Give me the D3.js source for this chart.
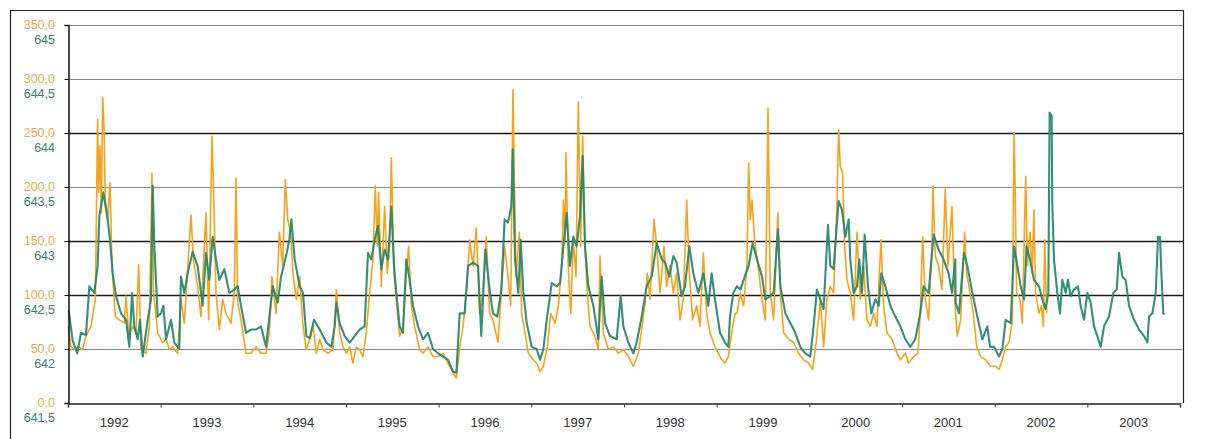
<!DOCTYPE html>
<html>
<head>
<meta charset="utf-8">
<script src="https://cdn.jsdelivr.net/npm/d3@7"></script>
<style>
  html, body { margin: 0; padding: 0; background: #fff; }
  svg { display: block; font-family: "Liberation Sans", Arial, sans-serif; }
</style>
</head>
<body>
<svg id="chart" width="1206" height="439"></svg>
<script>
// ---------------- DATA ----------------
const yearTicks = [1992,1993,1994,1995,1996,1997,1998,1999,2000,2001,2002,2003,2004];
const yearLabels = ["1992","1993","1994","1995","1996","1997","1998","1999","2000","2001","2002","2003"];
const flowTicks = [0,50,100,150,200,250,300,350];
const levelTicks = [641.5,642,642.5,643,643.5,644,644.5,645];

// orange series: [decimal year, value] (left axis 0..350)
const flowData = [
[1992.0,71],[1992.032,52],[1992.068,49.5],[1992.122,52],[1992.158,49.5],[1992.194,62],[1992.248,71],[1992.295,96],[1992.32,263],[1992.331,195],[1992.345,238],[1992.36,176],[1992.374,283],[1992.388,256],[1992.403,188],[1992.428,170],[1992.453,204],[1992.475,127],[1992.511,80],[1992.554,77],[1992.608,74],[1992.626,99],[1992.655,62],[1992.698,71],[1992.734,65],[1992.763,128],[1992.788,49.5],[1992.842,46],[1992.878,71],[1992.906,213],[1992.924,102],[1992.968,65],[1993.022,56],[1993.058,59],[1993.094,49.5],[1993.129,52],[1993.183,46],[1993.219,96],[1993.255,74],[1993.291,124],[1993.327,174],[1993.353,133],[1993.399,108],[1993.435,80],[1993.46,127],[1993.489,176],[1993.518,77],[1993.554,247],[1993.572,195],[1993.597,102],[1993.633,68],[1993.669,96],[1993.705,83],[1993.759,74],[1993.795,102],[1993.813,208],[1993.831,93],[1993.867,77],[1993.921,46],[1993.975,46],[1994.029,52],[1994.083,46],[1994.137,46],[1994.173,65],[1994.201,117],[1994.245,83],[1994.281,158],[1994.317,127],[1994.345,207],[1994.371,170],
[1994.403,158],[1994.428,120],[1994.464,96],[1994.5,117],[1994.536,71],[1994.572,49.5],[1994.608,59],[1994.644,71],[1994.68,46],[1994.716,59],[1994.752,49.5],[1994.806,46],[1994.86,49.5],[1994.896,105],[1994.932,65],[1994.968,52],[1995.004,46],[1995.04,52],[1995.075,37],[1995.111,52],[1995.147,49.5],[1995.183,43],[1995.219,65],[1995.255,102],[1995.291,133],[1995.316,201],[1995.338,145],[1995.352,195],[1995.381,108],[1995.417,182],[1995.446,120],[1995.471,148],[1995.489,227],[1995.518,120],[1995.543,96],[1995.579,62],[1995.615,71],[1995.651,120],[1995.676,145],[1995.705,90],[1995.741,71],[1995.795,49.5],[1995.831,46],[1995.885,52],[1995.939,43],[1995.993,43],[1996.047,46],[1996.101,37],[1996.155,28],[1996.191,23],[1996.227,52],[1996.263,71],[1996.299,102],[1996.335,151],[1996.371,127],[1996.406,162],[1996.442,83],[1996.478,102],[1996.514,154],[1996.55,83],[1996.586,77],[1996.64,56],[1996.676,102],[1996.712,145],[1996.748,117],[1996.777,90],[1996.802,290],
[1996.835,117],[1996.871,158],[1996.896,83],[1996.932,65],[1996.968,46],[1997.022,40],[1997.058,37],[1997.094,29],[1997.13,34],[1997.173,52],[1997.209,83],[1997.256,74],[1997.292,90],[1997.328,127],[1997.346,188],[1997.364,151],[1997.374,232],[1997.399,124],[1997.425,83],[1997.453,151],[1997.482,117],[1997.507,279],[1997.533,145],[1997.554,247],[1997.579,145],[1997.604,102],[1997.633,71],[1997.687,62],[1997.723,49.5],[1997.741,136],[1997.777,65],[1997.831,49.5],[1997.885,52],[1997.939,46],[1997.993,49.5],[1998.047,43],[1998.101,34],[1998.155,46],[1998.191,68],[1998.227,93],[1998.252,120],[1998.281,96],[1998.324,170],[1998.353,145],[1998.389,102],[1998.432,145],[1998.46,108],[1998.496,127],[1998.532,102],[1998.568,120],[1998.604,77],[1998.64,96],[1998.676,188],[1998.705,120],[1998.741,77],[1998.784,90],[1998.82,71],[1998.856,139],[1998.892,83],[1998.928,65],[1998.982,52],[1999.018,46],[1999.054,40],[1999.09,37],[1999.126,43],[1999.162,65],[1999.198,83],
[1999.219,83],[1999.255,102],[1999.291,90],[1999.327,127],[1999.345,222],[1999.363,170],[1999.381,188],[1999.41,151],[1999.446,127],[1999.489,96],[1999.525,77],[1999.554,273],[1999.579,102],[1999.615,77],[1999.661,176],[1999.687,102],[1999.723,65],[1999.777,59],[1999.831,56],[1999.884,46],[1999.938,40],[1999.992,37],[2000.036,31],[2000.082,62],[2000.118,96],[2000.154,52],[2000.19,96],[2000.226,108],[2000.262,102],[2000.298,182],[2000.316,253],[2000.334,219],[2000.359,213],[2000.381,145],[2000.406,114],[2000.442,102],[2000.478,77],[2000.514,158],[2000.55,96],[2000.586,127],[2000.622,77],[2000.658,71],[2000.694,83],[2000.73,71],[2000.773,151],[2000.802,90],[2000.838,65],[2000.892,59],[2000.946,46],[2000.982,40],[2001.036,46],[2001.071,37],[2001.125,43],[2001.172,46],[2001.197,83],[2001.223,154],[2001.251,96],[2001.287,77],[2001.323,145],[2001.334,201],[2001.359,136],[2001.395,127],[2001.431,105],[2001.467,198],[2001.496,127],[2001.539,182],[2001.568,96],
[2001.597,62],[2001.633,77],[2001.676,158],[2001.698,120],[2001.734,102],[2001.77,83],[2001.806,52],[2001.849,43],[2001.903,40],[2001.957,34],[2002.011,34],[2002.047,31],[2002.083,40],[2002.119,52],[2002.155,56],[2002.191,77],[2002.209,250],[2002.219,210],[2002.237,102],[2002.273,96],[2002.299,74],[2002.317,145],[2002.335,210],[2002.353,127],[2002.381,158],[2002.406,120],[2002.424,179],[2002.442,102],[2002.478,83],[2002.504,90],[2002.525,71],[2002.54,151],[2002.561,83]
];

// green series: [decimal year, level m] (right-hand scale 641.5..645)
const levelData = [
[1992.007,642.36],[1992.05,642.08],[1992.10,641.96],[1992.14,642.15],[1992.194,642.13],[1992.23,642.58],[1992.284,642.52],[1992.32,642.77],[1992.338,643.23],[1992.381,643.45],[1992.428,643.20],[1992.453,643.01],[1992.482,642.70],[1992.518,642.49],[1992.572,642.33],[1992.626,642.27],[1992.662,642.02],[1992.691,642.52],[1992.716,642.21],[1992.752,642.09],[1992.777,642.27],[1992.806,641.93],[1992.86,642.27],[1992.896,642.46],[1992.914,643.51],[1992.932,642.95],[1992.968,642.30],[1993.004,642.33],[1993.029,642.40],[1993.058,642.09],[1993.112,642.27],[1993.147,642.06],[1993.201,642.00],[1993.219,642.67],[1993.255,642.52],[1993.291,642.70],[1993.345,642.90],[1993.399,642.77],[1993.453,642.40],[1993.489,642.89],[1993.525,642.64],[1993.561,643.04],[1993.597,642.83],[1993.633,642.64],[1993.687,642.74],[1993.741,642.52],[1993.795,642.55],[1993.831,642.58],[1993.867,642.40],[1993.921,642.15],[1993.975,642.18],[1994.029,642.18],[1994.083,642.21],[1994.137,642.02],[1994.173,642.30],[1994.209,642.58],[1994.263,642.43],[1994.299,642.67],[1994.353,642.86],[1994.388,643.01],
[1994.41,643.20],[1994.446,642.83],[1994.5,642.58],[1994.536,642.52],[1994.572,642.12],[1994.608,642.10],[1994.655,642.27],[1994.716,642.18],[1994.788,642.06],[1994.842,642.02],[1994.878,642.21],[1994.896,642.43],[1994.932,642.24],[1994.986,642.12],[1995.04,642.06],[1995.093,642.12],[1995.147,642.18],[1995.201,642.21],[1995.237,642.89],[1995.273,642.83],[1995.316,643.04],[1995.345,643.14],[1995.381,642.74],[1995.417,642.92],[1995.453,642.83],[1995.489,643.32],[1995.518,642.77],[1995.543,642.52],[1995.579,642.21],[1995.615,642.15],[1995.651,642.83],[1995.687,642.64],[1995.723,642.40],[1995.777,642.21],[1995.831,642.09],[1995.885,642.15],[1995.939,642.00],[1995.993,641.96],[1996.047,641.93],[1996.101,641.90],[1996.155,641.79],[1996.191,641.78],[1996.227,642.33],[1996.281,642.33],[1996.317,642.77],[1996.371,642.80],[1996.425,642.77],[1996.46,642.12],[1996.503,642.92],[1996.55,642.55],[1996.586,642.33],[1996.633,642.30],[1996.676,642.55],[1996.712,643.20],[1996.748,643.17],[1996.784,643.32],
[1996.799,643.85],[1996.824,642.83],[1996.86,642.52],[1996.885,643.01],[1996.914,642.52],[1996.95,642.24],[1997.004,642.02],[1997.058,642.00],[1997.094,641.90],[1997.13,642.00],[1997.166,642.27],[1997.22,642.61],[1997.274,642.58],[1997.31,642.61],[1997.346,642.95],[1997.382,643.26],[1997.417,642.77],[1997.453,643.04],[1997.489,642.95],[1997.525,643.23],[1997.554,643.79],[1997.579,642.95],[1997.615,642.58],[1997.669,642.40],[1997.723,642.09],[1997.759,642.67],[1997.795,642.24],[1997.849,642.12],[1997.921,642.09],[1997.964,642.49],[1997.993,642.21],[1998.047,642.06],[1998.101,641.96],[1998.137,642.06],[1998.191,642.30],[1998.245,642.58],[1998.299,642.67],[1998.353,642.98],[1998.407,642.83],[1998.443,642.80],[1998.489,642.67],[1998.532,642.86],[1998.568,642.80],[1998.622,642.49],[1998.658,642.58],[1998.705,642.95],[1998.748,642.70],[1998.802,642.52],[1998.856,642.70],[1998.91,642.40],[1998.946,642.70],[1998.982,642.46],[1999.036,642.15],[1999.09,642.06],[1999.126,642.02],[1999.144,642.30],[1999.18,642.52],
[1999.219,642.58],[1999.255,642.55],[1999.291,642.64],[1999.345,642.77],[1999.388,642.98],[1999.435,642.83],[1999.489,642.67],[1999.525,642.46],[1999.579,642.49],[1999.615,642.52],[1999.661,643.11],[1999.687,642.58],[1999.741,642.33],[1999.795,642.24],[1999.848,642.15],[1999.902,642.02],[1999.956,641.96],[2000.01,641.93],[2000.046,642.21],[2000.082,642.55],[2000.118,642.46],[2000.154,642.37],[2000.201,643.15],[2000.226,642.77],[2000.262,642.74],[2000.287,643.04],[2000.316,643.37],[2000.352,643.29],[2000.388,643.04],[2000.424,643.20],[2000.442,642.83],[2000.478,642.52],[2000.514,642.58],[2000.539,642.83],[2000.568,642.52],[2000.597,643.06],[2000.633,642.58],[2000.669,642.33],[2000.712,642.46],[2000.748,642.40],[2000.777,642.70],[2000.82,642.58],[2000.874,642.40],[2000.928,642.30],[2000.982,642.21],[2001.036,642.09],[2001.089,642.02],[2001.143,642.09],[2001.197,642.33],[2001.233,642.58],[2001.287,642.52],[2001.341,643.06],[2001.395,642.92],[2001.449,642.83],[2001.503,642.70],[2001.539,642.52],[2001.575,642.83],
[2001.579,642.43],[2001.615,642.33],[2001.669,642.89],[2001.705,642.77],[2001.759,642.52],[2001.813,642.30],[2001.867,642.09],[2001.921,642.21],[2001.95,642.02],[2001.993,642.02],[2002.047,641.93],[2002.083,642.00],[2002.119,642.27],[2002.173,642.24],[2002.209,642.95],[2002.245,642.77],[2002.281,642.58],[2002.317,642.46],[2002.345,642.95],[2002.381,642.83],[2002.424,642.64],[2002.478,642.58],[2002.514,642.46],[2002.55,642.37],[2002.579,642.52],[2002.593,644.19],[2002.615,644.16],[2002.622,643.35],[2002.64,642.83],[2002.676,642.52],[2002.705,642.33],[2002.73,642.64],[2002.766,642.52],[2002.791,642.64],[2002.82,642.49],[2002.856,642.55],[2002.899,642.58],[2002.928,642.40],[2002.964,642.27],[2003.0,642.52],[2003.036,642.43],[2003.072,642.21],[2003.108,642.12],[2003.144,642.02],[2003.18,642.21],[2003.234,642.30],[2003.281,642.52],[2003.317,642.55],[2003.342,642.89],[2003.378,642.67],[2003.414,642.64],[2003.45,642.40],[2003.504,642.27],[2003.558,642.18],[2003.612,642.12],[2003.648,642.06],[2003.666,642.30],[2003.702,642.33],[2003.738,642.52],[2003.763,643.04],[2003.784,643.04],[2003.799,642.70],[2003.82,642.33],[2003.835,642.32]
];

// ---------------- DRAW ----------------
const svg = d3.select("#chart");
const L = 68, R = 1180, T = 25, B = 403, FRAME_R = 1183;

const x = d3.scaleLinear().domain([1992, 2004]).range([L, R]);
const yFlow = d3.scaleLinear().domain([0, 350]).range([B, T]);
const yLevel = d3.scaleLinear().domain([641.5, 645]).range([B, T]);

// outer frame
svg.append("path")
  .attr("d", `M10.5,439 V10.5 H${FRAME_R + 0.5} V${B}`)
  .attr("fill", "none").attr("stroke", "#222").attr("stroke-width", 1.2);

// gridlines
const darkGrid = new Set([100, 150, 250]);
svg.append("g").selectAll("line")
  .data(flowTicks.filter(v => v > 0))
  .join("line")
  .attr("x1", L).attr("x2", FRAME_R)
  .attr("y1", d => Math.round(yFlow(d)) + 0.5)
  .attr("y2", d => Math.round(yFlow(d)) + 0.5)
  .attr("stroke", d => darkGrid.has(d) ? "#1a1a1a" : "#8c8c8c")
  .attr("stroke-width", d => darkGrid.has(d) ? 1.6 : 1.2);

// series
const flowLine = d3.line().x(d => x(d[0])).y(d => yFlow(d[1]));
const levelLine = d3.line().x(d => x(d[0])).y(d => yLevel(d[1]));

svg.append("path").datum(flowData)
  .attr("d", flowLine)
  .attr("fill", "none").attr("stroke", "#F5A31A").attr("stroke-width", 1.6)
  .attr("stroke-linejoin", "round");

svg.append("path").datum(levelData)
  .attr("d", levelLine)
  .attr("fill", "none").attr("stroke", "#23876A").attr("stroke-width", 2.1)
  .attr("stroke-opacity", 0.92)
  .attr("stroke-linejoin", "round");

// left axis
const gy = svg.append("g").attr("transform", `translate(${L + 0.5},0)`)
  .call(d3.axisLeft(yFlow).tickValues(flowTicks).tickSize(4).tickFormat(""));
gy.select(".domain").attr("stroke", "#111").attr("stroke-width", 1.5);
gy.selectAll(".tick line").attr("stroke", "#111");

// bottom axis
const gx = svg.append("g").attr("transform", `translate(0,${B + 0.5})`)
  .call(d3.axisBottom(x).tickValues(yearTicks).tickSize(4).tickFormat(""));
gx.select(".domain").attr("stroke", "#222").attr("stroke-width", 1.5);
gx.selectAll(".tick line").attr("stroke", "#444");

// left labels (two scales)
const fmtFlow = v => d3.format(".1f")(v).replace(".", ",");
const fmtLevel = v => String(v).replace(".", ",");
const lab = svg.append("g").attr("font-size", 12.5).attr("text-anchor", "end");
lab.selectAll("text.flow").data(flowTicks).join("text")
  .attr("class", "flow")
  .attr("x", 55).attr("y", d => yFlow(d) + 4)
  .attr("fill", "#E6AC45")
  .text(fmtFlow);
lab.selectAll("text.level").data(levelTicks).join("text")
  .attr("class", "level")
  .attr("x", 55).attr("y", d => yLevel(d) + 19)
  .attr("fill", "#3E7F70")
  .text(fmtLevel);

// year labels
svg.append("g").attr("font-size", 13).attr("text-anchor", "middle").attr("fill", "#333")
  .selectAll("text").data(yearLabels).join("text")
  .attr("x", d => x(+d + 0.5))
  .attr("y", 427)
  .text(d => d);
</script>
</body>
</html>
